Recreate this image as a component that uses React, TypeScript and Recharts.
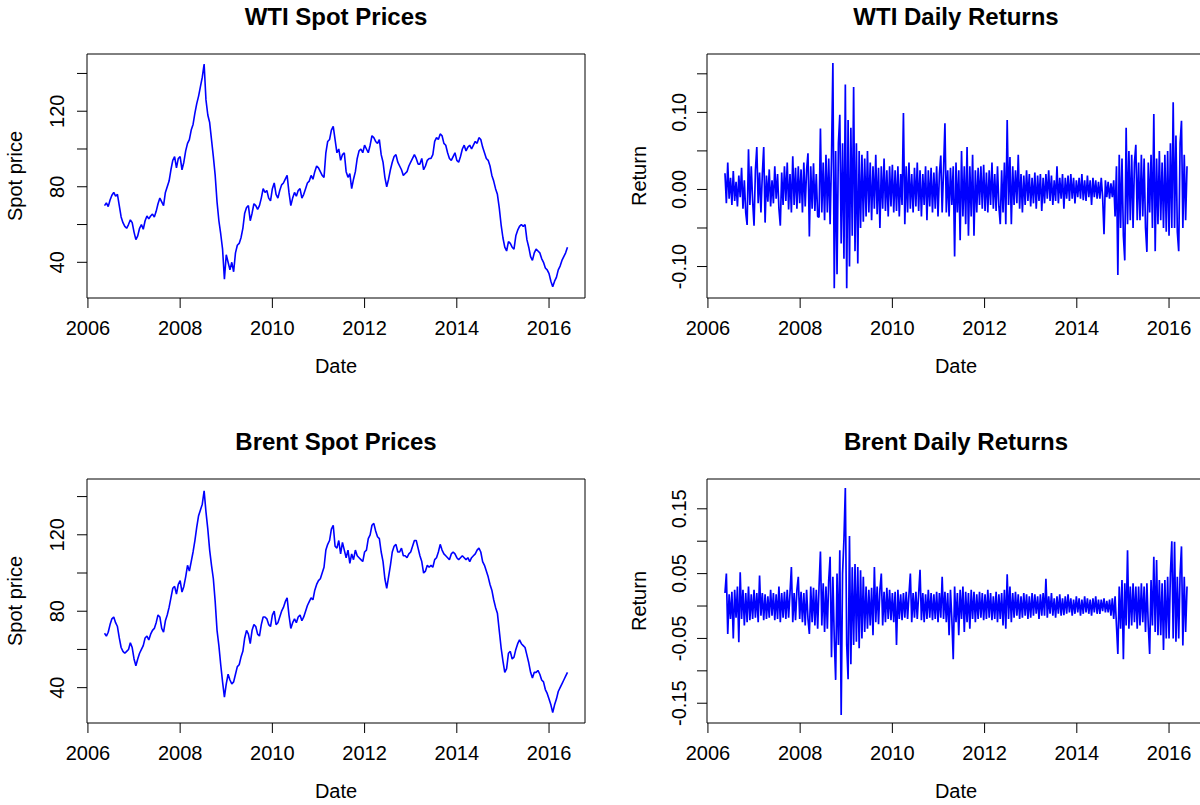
import { LineChart, Line, XAxis, YAxis, ReferenceArea } from "recharts";

// decimal years, tick positions of the date axis
const yearTicks = [2006, 2008, 2010, 2012, 2014, 2016];
const dateDomain = [2005.98, 2016.78];

// spot prices, sampled about every two weeks
const priceStart = 2006.36;
const priceStep = 0.04;

const wtiPrice = [
  70, 71.5, 69.5, 73, 75.5, 77, 75, 76, 70, 64,
  61, 59, 58, 60, 62.5, 61, 56, 52, 54, 58,
  60, 57.5, 62, 64.5, 63, 64.5, 65.5, 64, 67, 71,
  74, 72, 70, 77, 80, 83, 89, 94, 96, 90,
  95, 96, 89, 93, 99, 103, 105, 110, 113, 119,
  124, 128, 133, 138, 145, 126, 118, 114, 105, 96,
  86, 72, 62, 55, 47, 31, 44, 40, 36, 40,
  35, 45, 49, 50, 53, 58, 66, 69, 70, 62,
  66, 71, 70, 68, 70, 74, 79, 77, 78, 74,
  72.5, 79, 82, 76, 74, 78, 81, 82, 84, 86,
  77, 70, 74, 77, 75, 78, 79, 74, 76, 79,
  82, 83, 86, 84, 88, 91, 90, 88, 86, 85,
  98, 104, 105, 110, 112, 105, 98, 100, 94, 97,
  98, 88, 85, 87, 79, 84, 88, 95, 99, 100,
  98, 102, 100, 98, 102, 107, 106, 104, 103, 105,
  97, 93, 85, 80, 84, 89, 93, 96, 97, 93,
  91, 89, 86, 87, 88, 91, 93, 95, 97, 95,
  92, 92, 95, 89, 91, 94, 95, 95, 97, 104,
  106, 105, 108, 107, 103, 102, 98, 95, 94, 96,
  98, 94, 93, 96, 100, 102, 99, 101, 102, 100,
  102, 104, 103, 106, 105, 101, 98, 95, 94, 91,
  86, 83, 79, 76, 69, 60, 53, 48, 46, 51,
  50, 48, 47, 54, 57, 59, 60, 59, 60, 52,
  48, 43, 41, 45, 47, 46, 45, 42, 40, 37,
  36, 34, 30, 27, 30, 32, 36, 38, 41, 43,
  45, 48,
];

const brentPrice = [
  68.5, 67, 69, 73, 76, 77, 74, 72, 66, 61,
  59, 58, 59, 60, 63.5, 61, 55, 51.5, 55, 58,
  60, 62, 66, 67, 65, 68, 70, 71, 74, 78,
  77, 71, 69, 75, 78, 82, 87, 92, 93, 89,
  94, 96, 90, 93, 98, 104, 101, 106, 111, 117,
  124, 130, 133, 136, 143, 132, 123, 112, 104, 97,
  85, 70, 62, 52, 43, 35, 42, 47, 44, 42,
  43, 47, 51, 52, 56, 59, 66, 70, 68, 63,
  70, 73, 72, 68, 67, 73, 77, 77, 76, 73,
  72, 78, 80, 73, 74, 77, 80, 82, 85, 87,
  78, 71, 74, 76, 74, 77, 78, 75, 77, 80,
  83, 85, 87, 86, 91, 94, 96, 97, 100, 103,
  112, 115, 117, 123, 125, 114, 113, 117, 110, 116,
  112, 108, 112, 105, 110, 107, 112, 109, 108, 107,
  106, 111, 112, 118, 120, 125, 126, 122, 119, 118,
  111, 106, 97, 92, 98, 104, 111, 114, 115, 111,
  111, 113, 109, 109, 108, 110, 111, 114, 117, 117,
  113, 109, 106, 100, 101, 104, 103, 104, 103, 107,
  108, 111, 115, 112, 110, 109, 108, 107, 110, 111,
  110, 108, 107, 108, 109, 108, 107, 108, 106, 108,
  109, 110, 112, 113, 111, 106, 104, 101, 98, 94,
  91, 86, 82, 79, 70, 61, 54, 48, 50, 58,
  59, 55, 56, 60, 63, 65, 63, 62, 61, 57,
  53, 48, 45, 48, 48, 49, 47, 44, 43, 39,
  37, 34, 31, 27, 31, 34, 38, 40, 42, 44,
  46, 48,
];

// returns, sampled about every 11 days
const returnStart = 2006.37;
const returnStep = 0.03;

const wtiReturn = [
  0.021, -0.018, 0.035, -0.012, 0.015, -0.02, 0.024, -0.015, 0.01, -0.022,
  0.018, -0.01, 0.028, -0.025, 0.012, -0.03, -0.046, 0.052, -0.02, 0.03,
  -0.015, -0.047, 0.025, 0.055, -0.018, 0.022, -0.03, 0.02, 0.055, -0.043,
  0.018, -0.016, 0.026, -0.022, 0.012, -0.018, 0.03, -0.012, 0.02, -0.025,
  -0.047, 0.022, -0.02, 0.03, -0.015, 0.035, -0.026, 0.02, -0.03, 0.043,
  -0.02, 0.028, -0.025, 0.03, -0.018, 0.026, -0.03, 0.035, -0.022, 0.025,
  0.047, -0.061, 0.03, -0.025, 0.034, -0.028, 0.02, -0.035, -0.036, 0.079,
  -0.03, 0.035, -0.04, 0.045, -0.03, 0.04, -0.045, 0.04, 0.164, -0.128,
  0.05, -0.11, 0.06, 0.097, -0.07, 0.06, -0.09, 0.136, -0.128, 0.09,
  -0.1, 0.08, -0.06, 0.133, -0.08, 0.06, -0.096, 0.05, -0.05, 0.045,
  -0.042, 0.04, -0.035, 0.05, -0.03, 0.035, -0.04, 0.03, -0.025, 0.045,
  -0.032, 0.028, -0.05, 0.03, -0.025, 0.04, -0.028, 0.025, -0.035, 0.03,
  -0.022, 0.032, -0.03, 0.025, -0.028, 0.03, -0.035, 0.02, -0.02, 0.099,
  -0.045, 0.03, -0.03, 0.035, -0.025, 0.02, -0.03, 0.028, -0.022, 0.035,
  -0.028, 0.025, -0.035, 0.02, -0.02, 0.03, -0.04, 0.025, -0.022, 0.028,
  -0.03, 0.022, -0.025, 0.03, -0.035, 0.02, 0.044, -0.03, 0.025, 0.086,
  -0.03, 0.025, -0.035, 0.028, -0.02, 0.03, -0.087, 0.035, -0.03, 0.025,
  -0.066, 0.05, -0.035, 0.03, -0.045, 0.055, -0.06, 0.03, -0.035, 0.045,
  -0.06, 0.025, -0.03, 0.028, -0.02, 0.03, -0.025, 0.032, -0.028, 0.022,
  -0.03, 0.025, -0.02, 0.035, -0.025, 0.02, -0.028, 0.03, -0.022, -0.045,
  0.025, -0.03, 0.035, -0.045, 0.09, -0.02, 0.042, -0.045, 0.03, -0.02,
  0.025, -0.018, 0.045, -0.025, 0.02, -0.03, 0.018, -0.02, 0.025, -0.015,
  0.02, -0.022, 0.015, -0.018, 0.022, -0.025, 0.018, -0.015, 0.02, -0.028,
  0.015, -0.018, 0.02, -0.012, 0.025, -0.015, 0.018, -0.02, 0.012, -0.015,
  0.03, -0.018, 0.015, -0.012, 0.02, -0.025, 0.015, -0.012, 0.018, -0.015,
  0.02, -0.012, 0.015, -0.018, 0.012, -0.01, 0.015, -0.012, 0.02, -0.014,
  0.012, -0.015, 0.018, -0.01, 0.012, -0.02, 0.015, -0.01, 0.012, -0.012,
  0.01, -0.012, 0.015, -0.01, -0.058, 0.012, -0.01, 0.01, -0.012, 0.008,
  -0.01, 0.012, -0.035, 0.03, -0.111, 0.045, -0.05, 0.04, -0.06, -0.092,
  0.08, -0.045, 0.05, -0.04, 0.045, -0.05, 0.035, 0.058, -0.04, 0.035,
  -0.04, 0.045, -0.035, 0.04, -0.05, -0.081, 0.035, -0.03, 0.045, -0.05,
  0.098, -0.08, 0.04, -0.045, 0.05, -0.04, 0.035, -0.05, 0.045, -0.055,
  0.05, -0.06, 0.06, -0.05, 0.113, -0.05, 0.07, -0.055, -0.08, 0.06,
  0.089, -0.05, 0.045, -0.04, 0.03,
];

const brentReturn = [
  0.02, 0.05, -0.043, 0.018, -0.02, 0.022, -0.05, 0.025, -0.018, 0.03,
  -0.056, 0.052, -0.02, 0.025, -0.03, 0.02, -0.025, 0.03, -0.022, 0.018,
  -0.02, 0.025, -0.018, 0.02, -0.025, 0.047, -0.015, 0.02, -0.022, 0.018,
  -0.02, 0.015, -0.018, 0.025, -0.015, 0.02, -0.022, 0.018, -0.02, 0.03,
  -0.025, 0.02, -0.018, 0.022, -0.02, 0.025, -0.018, 0.02, 0.06, -0.025,
  0.02, -0.022, 0.025, 0.045, -0.02, 0.022, -0.025, 0.02, -0.03, 0.025,
  -0.02, -0.043, 0.03, -0.025, 0.028, -0.03, 0.025, -0.035, 0.03, 0.084,
  -0.03, 0.035, -0.04, 0.03, -0.035, 0.04, 0.076, -0.079, 0.045, -0.05,
  -0.114, 0.05, -0.06, 0.086, -0.168, 0.05, 0.103, 0.182, -0.06, -0.113,
  0.108, -0.09, 0.06, -0.06, 0.065, -0.055, 0.06, -0.065, 0.055, -0.05,
  0.045, -0.04, 0.03, -0.035, 0.025, -0.03, 0.028, -0.045, 0.06, -0.025,
  0.03, -0.028, 0.025, 0.05, -0.03, 0.022, -0.025, 0.028, -0.02, 0.025,
  -0.022, 0.02, -0.025, 0.022, -0.06, 0.025, -0.02, 0.018, -0.022, 0.02,
  -0.018, 0.022, -0.02, 0.018, 0.05, -0.025, 0.02, -0.018, 0.022, -0.02,
  0.018, 0.056, -0.022, 0.02, -0.025, 0.018, -0.02, 0.025, -0.018, 0.02,
  -0.022, 0.018, -0.02, 0.022, -0.025, 0.02, -0.018, 0.045, -0.02, 0.022,
  -0.025, 0.02, -0.045, 0.025, -0.02, -0.082, 0.03, -0.025, 0.02, -0.045,
  0.025, -0.02, 0.03, -0.04, 0.022, -0.025, 0.02, -0.035, 0.025, -0.02,
  0.022, -0.025, 0.018, -0.02, 0.022, -0.018, 0.02, -0.022, 0.018, -0.02,
  0.025, -0.018, 0.02, -0.022, 0.015, -0.02, 0.022, -0.025, 0.018, -0.02,
  0.02, -0.03, 0.025, -0.035, 0.049, -0.02, 0.03, -0.025, 0.02, -0.018,
  0.022, -0.015, 0.018, -0.02, 0.015, -0.018, 0.02, -0.015, 0.018, -0.02,
  0.015, -0.018, 0.02, -0.015, 0.018, -0.012, 0.015, -0.02, 0.018, -0.015,
  0.02, -0.015, 0.042, -0.018, 0.015, -0.012, 0.02, -0.015, 0.012, -0.018,
  0.015, -0.012, 0.018, -0.015, 0.012, -0.014, 0.015, -0.012, 0.018, -0.01,
  0.012, -0.015, 0.01, -0.012, 0.015, -0.01, 0.012, -0.015, 0.01, -0.012,
  0.015, -0.01, 0.012, -0.012, 0.01, -0.015, 0.012, -0.01, 0.015, -0.012,
  0.01, -0.012, 0.01, -0.008, 0.012, -0.01, 0.008, -0.01, 0.01, -0.015,
  0.012, -0.02, 0.015, -0.03, -0.074, 0.03, -0.035, 0.04, -0.082, 0.035,
  -0.03, 0.086, -0.035, 0.03, -0.03, 0.035, -0.025, 0.03, -0.035, 0.03,
  -0.03, 0.035, -0.025, 0.03, -0.04, 0.035, -0.03, -0.074, 0.04, -0.03,
  0.076, -0.04, 0.071, -0.045, 0.04, -0.045, 0.035, -0.068, 0.04, -0.05,
  0.045, -0.05, 0.05, 0.1, -0.05, 0.099, -0.055, 0.045, -0.05, 0.05,
  0.092, -0.061, 0.045, -0.04, 0.03,
];

const priceTicks = [40, 60, 80, 100, 120, 140];
const priceTickLabels = ["40", "", "80", "", "120", ""];
const wtiReturnTicks = [-0.1, -0.05, 0, 0.05, 0.1, 0.15];
const wtiReturnTickLabels = ["-0.10", "", "0.00", "", "0.10", ""];
const brentReturnTicks = [-0.15, -0.1, -0.05, 0, 0.05, 0.1, 0.15];
const brentReturnTickLabels = ["-0.15", "", "-0.05", "", "0.05", "", "0.15"];

const FONT = "'Liberation Sans', Arial, Helvetica, sans-serif";
const W = 620;
const H = 425;
const PLOT_LEFT = 87;
const PLOT_RIGHT = 585;
const PLOT_TOP = 54;
const PLOT_BOTTOM = 298;

function toSeries(values: number[], start: number, step: number) {
  return values.map((value, i) => ({ date: start + i * step, value }));
}

type PanelProps = {
  left: number;
  top: number;
  title: string;
  ylab: string;
  ylabX: number;
  tickLabelX: number;
  data: { date: number; value: number }[];
  yDomain: number[];
  yTicks: number[];
  yTickLabels: string[];
  strokeWidth: number;
};

function Panel(props: PanelProps) {
  const { yTicks, yTickLabels, tickLabelX } = props;

  const xTick = (p: any) => (
    <text x={p.x} y={335} textAnchor="middle" fontSize={20} fontFamily={FONT} fill="#000">
      {p.payload.value}
    </text>
  );

  const yTick = (p: any) => {
    const i = yTicks.indexOf(p.payload.value);
    const label = i >= 0 ? yTickLabels[i] : "";
    if (!label) return <g />;
    return (
      <text
        x={tickLabelX}
        y={p.y}
        transform={`rotate(-90, ${tickLabelX}, ${p.y})`}
        textAnchor="middle"
        fontSize={20}
        fontFamily={FONT}
        fill="#000"
      >
        {label}
      </text>
    );
  };

  const midX = (PLOT_LEFT + PLOT_RIGHT) / 2;
  const midY = (PLOT_TOP + PLOT_BOTTOM) / 2;

  return (
    <div style={{ position: "absolute", left: props.left, top: props.top, width: W, height: H }}>
      <LineChart
        width={W}
        height={H}
        data={props.data}
        margin={{ top: PLOT_TOP, right: W - PLOT_RIGHT, bottom: 0, left: 0 }}
      >
        <XAxis
          type="number"
          dataKey="date"
          domain={dateDomain}
          ticks={yearTicks}
          interval={0}
          allowDataOverflow
          height={H - PLOT_BOTTOM}
          axisLine={false}
          tickSize={10}
          tickLine={{ stroke: "#000" }}
          tick={xTick}
        />
        <YAxis
          type="number"
          domain={props.yDomain}
          ticks={yTicks}
          interval={0}
          allowDataOverflow
          width={PLOT_LEFT}
          axisLine={false}
          tickSize={10}
          tickLine={{ stroke: "#000" }}
          tick={yTick}
        />
        <ReferenceArea
          x1={dateDomain[0]}
          x2={dateDomain[1]}
          y1={props.yDomain[0]}
          y2={props.yDomain[1]}
          fill="none"
          stroke="#000"
          strokeWidth={1}
          ifOverflow="visible"
        />
        <Line
          type="linear"
          dataKey="value"
          stroke="#0000ff"
          strokeWidth={props.strokeWidth}
          strokeLinejoin="bevel"
          dot={false}
          isAnimationActive={false}
        />
      </LineChart>
      <svg
        width={W}
        height={H}
        style={{ position: "absolute", left: 0, top: 0, pointerEvents: "none" }}
      >
        <text x={midX} y={25} textAnchor="middle" fontSize={24} fontWeight="bold" fontFamily={FONT} fill="#000">
          {props.title}
        </text>
        <text x={midX} y={373} textAnchor="middle" fontSize={20} fontFamily={FONT} fill="#000">
          Date
        </text>
        <text
          x={props.ylabX}
          y={midY}
          transform={`rotate(-90, ${props.ylabX}, ${midY})`}
          textAnchor="middle"
          fontSize={20}
          fontFamily={FONT}
          fill="#000"
        >
          {props.ylab}
        </text>
      </svg>
    </div>
  );
}

export default function App() {
  return (
    <div
      style={{
        position: "absolute",
        left: 0,
        top: 0,
        width: 1200,
        height: 805,
        overflow: "hidden",
        background: "#fff",
      }}
    >
      <Panel
        left={0}
        top={0}
        title="WTI Spot Prices"
        ylab="Spot price"
        ylabX={22}
        tickLabelX={64}
        data={toSeries(wtiPrice, priceStart, priceStep)}
        yDomain={[21.1, 150.3]}
        yTicks={priceTicks}
        yTickLabels={priceTickLabels}
        strokeWidth={1.6}
      />
      <Panel
        left={620}
        top={0}
        title="WTI Daily Returns"
        ylab="Return"
        ylabX={26}
        tickLabelX={66}
        data={toSeries(wtiReturn, returnStart, returnStep)}
        yDomain={[-0.1408, 0.1757]}
        yTicks={wtiReturnTicks}
        yTickLabels={wtiReturnTickLabels}
        strokeWidth={1.7}
      />
      <Panel
        left={0}
        top={425}
        title="Brent Spot Prices"
        ylab="Spot price"
        ylabX={22}
        tickLabelX={64}
        data={toSeries(brentPrice, priceStart, priceStep)}
        yDomain={[21.5, 149.2]}
        yTicks={priceTicks}
        yTickLabels={priceTickLabels}
        strokeWidth={1.6}
      />
      <Panel
        left={620}
        top={425}
        title="Brent Daily Returns"
        ylab="Return"
        ylabX={26}
        tickLabelX={66}
        data={toSeries(brentReturn, returnStart, returnStep)}
        yDomain={[-0.1805, 0.196]}
        yTicks={brentReturnTicks}
        yTickLabels={brentReturnTickLabels}
        strokeWidth={1.7}
      />
    </div>
  );
}
